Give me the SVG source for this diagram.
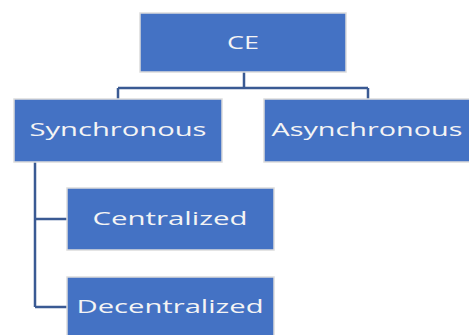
<svg xmlns="http://www.w3.org/2000/svg" width="469" height="335" viewBox="0 0 469 335">
<style>
.box{fill:#4472C4;stroke:#DCDCDC;stroke-width:1.5}
.lbl{font-family:"Open Sans","Noto Sans",sans-serif;font-size:19px;fill:#F4F4F4;text-anchor:middle}
.conn{fill:none;stroke:#3A5A93;stroke-width:2.5}
</style>
<rect width="469" height="335" fill="#FFFFFF"/>
<g id="connectors">
<path class="conn" d="M244 72V88M118 88H368M118 88V99M368 88V99"/>
<path class="conn" d="M35 162V307M35 219H67M35 307H67"/>
</g>
<g id="n-ce"><rect class="box" x="140" y="13" width="206" height="59"/><text class="lbl" x="243" y="49" textLength="32" lengthAdjust="spacingAndGlyphs">CE</text></g>
<g id="n-sync"><rect class="box" x="14" y="99" width="208" height="63"/><text class="lbl" x="118" y="136" textLength="177" lengthAdjust="spacingAndGlyphs">Synchronous</text></g>
<g id="n-async"><rect class="box" x="264" y="99" width="208" height="63"/><text class="lbl" x="367" y="136" textLength="191" lengthAdjust="spacingAndGlyphs">Asynchronous</text></g>
<g id="n-cent"><rect class="box" x="67" y="188" width="207" height="62"/><text class="lbl" x="170" y="225" textLength="155" lengthAdjust="spacingAndGlyphs">Centralized</text></g>
<g id="n-decent"><rect class="box" x="67" y="277" width="207" height="62"/><text class="lbl" x="170" y="313" textLength="187" lengthAdjust="spacingAndGlyphs">Decentralized</text></g>
</svg>
